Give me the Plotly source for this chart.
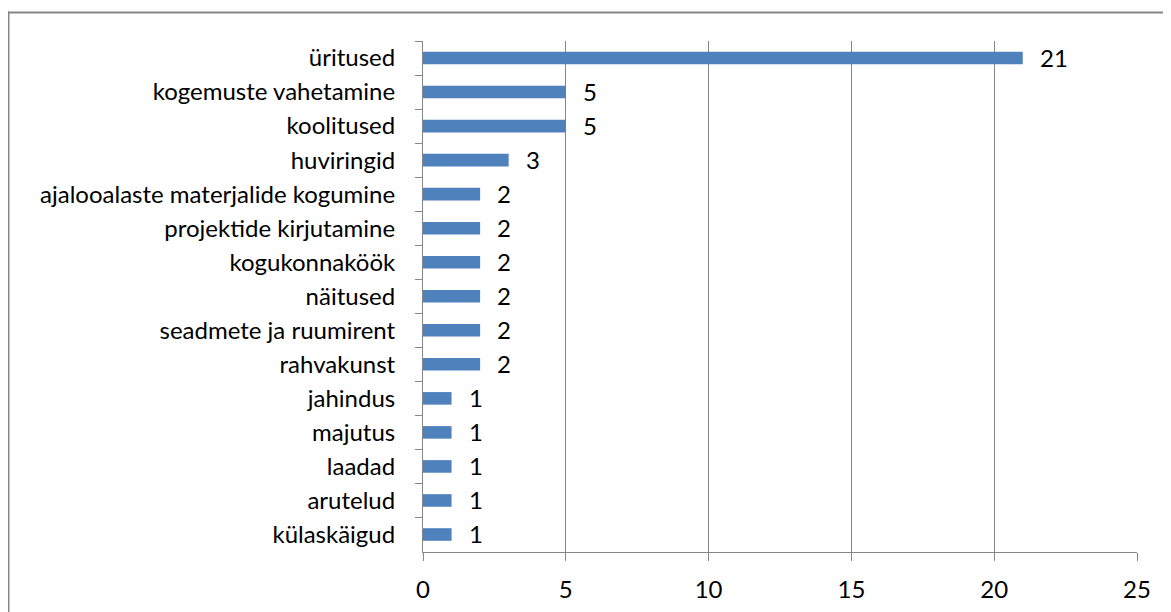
import plotly.graph_objects as go

categories = ["üritused", "kogemuste vahetamine", "koolitused", "huviringid",
              "ajalooalaste materjalide kogumine", "projektide kirjutamine",
              "kogukonnaköök", "näitused", "seadmete ja ruumirent", "rahvakunst",
              "jahindus", "majutus", "laadad", "arutelud", "külaskäigud"]
values = [21, 5, 5, 3, 2, 2, 2, 2, 2, 2, 1, 1, 1, 1, 1]
x_ticks = [0, 5, 10, 15, 20, 25]

# page has an 8px body margin; figure coordinates are page coords - 8
W, H = 1171, 612
L, R, T, B = 415, 42, 33, 68
pw, ph = W - L - R, H - T - B

FONT = "Lato"
FS = 24
GRID = "#868686"
BORDER = "#878787"

fig = go.Figure()
fig.add_trace(go.Bar(
    x=values, y=categories, orientation="h",
    marker=dict(color="#4F81BD", line=dict(width=0)),
    width=0.37,
))

annotations = [
    dict(x=v, y=c, xref="x", yref="y", text=str(v), showarrow=False,
         xanchor="left", yanchor="middle", xshift=15, yshift=1,
         font=dict(family=FONT, size=FS, color="#000000"))
    for c, v in zip(categories, values)
]

def px_to_paper_x(px):
    return (px - L) / pw

def px_to_paper_y(py):
    return 1 - (py - T) / ph

border_shapes = [
    # top edge of the chart frame
    dict(type="line", xref="paper", yref="paper",
         x0=px_to_paper_x(0), x1=px_to_paper_x(W),
         y0=px_to_paper_y(4.5), y1=px_to_paper_y(4.5),
         line=dict(color=BORDER, width=2), layer="below"),
    # left edge of the chart frame
    dict(type="line", xref="paper", yref="paper",
         x0=px_to_paper_x(0.5), x1=px_to_paper_x(0.5),
         y0=px_to_paper_y(3.5), y1=px_to_paper_y(H),
         line=dict(color=BORDER, width=2), layer="below"),
]

fig.update_layout(
    width=W, height=H,
    margin=dict(l=L, r=R, t=T, b=B, pad=0),
    paper_bgcolor="white", plot_bgcolor="white",
    showlegend=False,
    font=dict(family=FONT, size=FS, color="#000000"),
    annotations=annotations,
    shapes=border_shapes,
    xaxis=dict(range=[0, 25], tickvals=x_ticks, showgrid=True, gridcolor=GRID,
               gridwidth=1, showline=True, linecolor=GRID, linewidth=1,
               ticks="outside", ticklen=8, tickcolor=GRID, zeroline=False,
               ticklabelstandoff=8, automargin=False,
               tickfont=dict(family=FONT, size=FS)),
    yaxis=dict(type="category", autorange="reversed", showline=True,
               linecolor=GRID, linewidth=1, ticks="outside", ticklen=7,
               tickcolor=GRID, tickson="boundaries", showgrid=False,
               ticklabelstandoff=22, automargin=False,
               tickfont=dict(family=FONT, size=FS)),
)

fig.write_html("out.html")
